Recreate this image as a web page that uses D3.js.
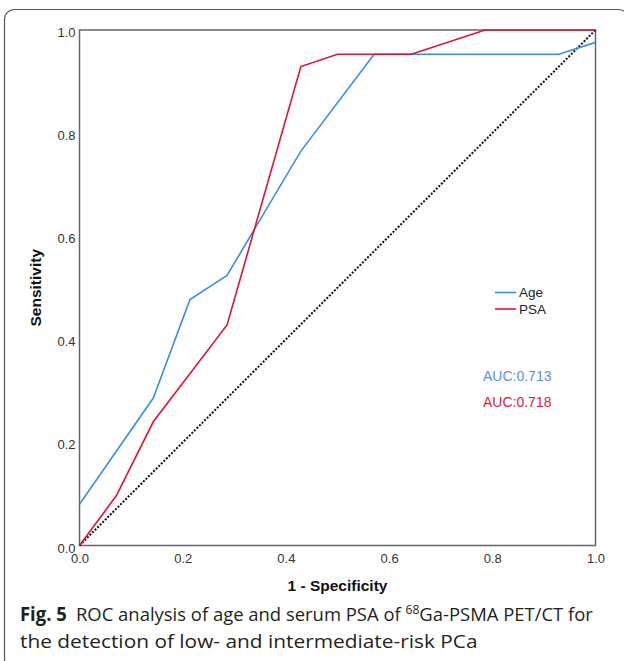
<!DOCTYPE html>
<html>
<head>
<meta charset="utf-8">
<script src="https://cdn.jsdelivr.net/npm/d3@7"></script>
<style>
  body { margin: 0; background: #fff; }
  svg { display: block; }
</style>
</head>
<body>
<div id="chart"></div>
<script>
// ROC points (1 - specificity, sensitivity)
const ageFpr = [0, 0.143, 0.214, 0.286, 0.429, 0.571, 0.929, 1.0];
const ageTpr = [0.080, 0.286, 0.477, 0.524, 0.765, 0.953, 0.953, 0.976];
const psaFpr = [0, 0.071, 0.143, 0.286, 0.429, 0.5, 0.643, 0.786, 1.0];
const psaTpr = [0, 0.096, 0.240, 0.428, 0.929, 0.953, 0.953, 1.0, 1.0];

const seriesNames = ['Age', 'PSA'];
const aucLabels = ['AUC:0.713', 'AUC:0.718'];
const tickValues = [0, 0.2, 0.4, 0.6, 0.8, 1.0];

const width = 624;
const height = 661;
const blue = '#3b8ee8';
const red = '#dc1432';

const svg = d3.select('#chart')
  .append('svg')
  .attr('width', width)
  .attr('height', height);

// rounded frame around the whole figure
svg.append('rect')
  .attr('x', 4.5)
  .attr('y', 9.5)
  .attr('width', 624)
  .attr('height', 660)
  .attr('rx', 10)
  .attr('fill', 'none')
  .attr('stroke', '#555')
  .attr('stroke-width', 1.2);

const x = d3.scaleLinear().domain([0, 1]).range([79.5, 595.5]);
const y = d3.scaleLinear().domain([0, 1]).range([545.5, 30]);

const tickFont = '"Liberation Sans", Arial, sans-serif';

// axes (labels only, no tick marks)
const xAxis = svg.append('g')
  .attr('transform', `translate(0,${y(0)})`)
  .call(d3.axisBottom(x).tickValues(tickValues).tickFormat(d3.format('.1f')).tickSize(0).tickPadding(8));
const yAxis = svg.append('g')
  .attr('transform', `translate(${x(0)},0)`)
  .call(d3.axisLeft(y).tickValues(tickValues).tickFormat(d3.format('.1f')).tickSize(0).tickPadding(4));

[xAxis, yAxis].forEach(g => {
  g.select('.domain').remove();
  g.selectAll('text')
    .attr('font-family', tickFont)
    .attr('font-size', 13)
    .attr('fill', '#333');
});
yAxis.selectAll('text').attr('dy', '0.5em');

// plot box
svg.append('rect')
  .attr('x', x(0))
  .attr('y', y(1))
  .attr('width', x(1) - x(0))
  .attr('height', y(0) - y(1))
  .attr('fill', 'none')
  .attr('stroke', '#666')
  .attr('stroke-width', 1.5);

// reference diagonal
svg.append('line')
  .attr('x1', x(0)).attr('y1', y(0))
  .attr('x2', x(1)).attr('y2', y(1))
  .attr('stroke', '#111')
  .attr('stroke-width', 2)
  .attr('stroke-dasharray', '2,1.6');

const line = d3.line()
  .x(d => x(d[0]))
  .y(d => y(d[1]));

const ageData = d3.zip(ageFpr, ageTpr);
const psaData = d3.zip(psaFpr, psaTpr);

svg.append('path')
  .datum(ageData)
  .attr('d', line)
  .attr('fill', 'none')
  .attr('stroke', blue)
  .attr('stroke-width', 1.6);

svg.append('path')
  .datum(psaData)
  .attr('d', line)
  .attr('fill', 'none')
  .attr('stroke', red)
  .attr('stroke-width', 1.6);

// legend
const legend = svg.append('g');
seriesNames.forEach((name, i) => {
  const ly = 292.5 + i * 16.5;
  legend.append('line')
    .attr('x1', 495).attr('x2', 516)
    .attr('y1', ly).attr('y2', ly)
    .attr('stroke', i === 0 ? blue : red)
    .attr('stroke-width', 1.6);
  legend.append('text')
    .text(name)
    .attr('x', 519)
    .attr('y', ly)
    .attr('dy', '0.36em')
    .attr('font-family', tickFont)
    .attr('font-size', 13.5)
    .attr('fill', '#222');
});

// AUC values
aucLabels.forEach((t, i) => {
  svg.append('text')
    .text(t)
    .attr('x', 483)
    .attr('y', 376 + i * 25.5)
    .attr('dy', '0.36em')
    .attr('font-family', tickFont)
    .attr('font-size', 14)
    .attr('fill', i === 0 ? '#5b8ef0' : '#e0183c');
});

// axis titles
svg.append('text')
  .text('1 - Specificity')
  .attr('x', (x(0) + x(1)) / 2)
  .attr('y', 591)
  .attr('text-anchor', 'middle')
  .attr('font-family', tickFont)
  .attr('font-weight', 'bold')
  .attr('font-size', 15.5)
  .attr('fill', '#111');

svg.append('text')
  .text('Sensitivity')
  .attr('transform', `translate(41,${(y(0) + y(1)) / 2}) rotate(-90)`)
  .attr('text-anchor', 'middle')
  .attr('font-family', tickFont)
  .attr('font-weight', 'bold')
  .attr('font-size', 15.5)
  .attr('fill', '#111');

// caption, each line squeezed to the width it has in the original
const capFont = '"Open Sans", "Noto Sans", sans-serif';
const cap1 = svg.append('text')
  .attr('font-family', capFont)
  .attr('font-size', 19)
  .attr('fill', '#231f20');
cap1.append('tspan').attr('font-weight', 'bold').text('Fig. 5');
cap1.append('tspan').text('\u2002ROC analysis of age and serum PSA of ');
cap1.append('tspan').attr('font-size', 12.5).attr('dy', -7).text('68');
cap1.append('tspan').attr('dy', 7).text('Ga-PSMA PET/CT for');

const cap2 = svg.append('text')
  .attr('font-family', capFont)
  .attr('font-size', 19)
  .attr('fill', '#231f20')
  .text('the detection of low- and intermediate-risk PCa');

function fitLine(sel, left, right, base) {
  const w = sel.node().getComputedTextLength();
  sel.attr('transform', `translate(${left},${base}) scale(${(right - left) / w},1)`);
}
fitLine(cap1, 20, 593, 620.5);
fitLine(cap2, 20, 478, 648);
</script>
</body>
</html>
